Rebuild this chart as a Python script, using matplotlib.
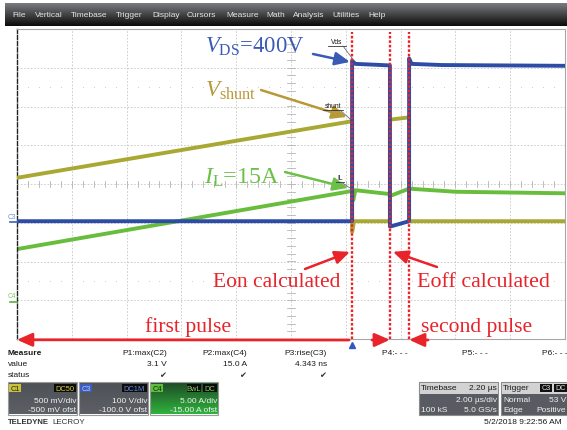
import numpy as np
import matplotlib
matplotlib.use('Agg')
import matplotlib.pyplot as plt
from matplotlib.patches import Rectangle

plt.rcParams['mathtext.fontset'] = 'custom'
plt.rcParams['mathtext.rm'] = 'Liberation Serif'
plt.rcParams['mathtext.it'] = 'Liberation Serif:italic'

# ---- data (time in us, physical units) ----
t_on, t_off, t_on2 = 12.23, 13.61, 14.31   # switching edges

vds_t = [0, t_on, t_on, 12.35, 13.0, t_off, t_off, t_on2, t_on2, 14.4, 15.5, 20]
vds_v = [4, 4, 418, 410, 408, 406, -10, 4, 424, 410, 407, 405]

shunt_t = [0, t_on, t_on, 12.3, t_off, t_off, t_on2, t_on2, 20]
shunt_v = [0.58, 1.31, -0.12, 0.02, 0.02, 1.33, 1.36, 0.02, 0.02]

il_t = [0, t_on, 12.27, 12.35, t_off, 13.65, t_on2, 16.0, 20]
il_i = [6.6, 14.1, 12.9, 14.2, 13.7, 13.5, 14.4, 14.0, 13.8]

# channel settings (scale per div, offset)
c1_scale, c1_ofs = 0.5, -0.5
c3_scale, c3_ofs = 100.0, -100.0
c4_scale, c4_ofs = 5.0, -15.0

menu = ['File', 'Vertical', 'Timebase', 'Trigger', 'Display', 'Cursors',
        'Measure', 'Math', 'Analysis', 'Utilities', 'Help']
menu_x = [12, 35, 71, 116, 152, 187, 226, 266, 293, 332, 368]

meas_names = ['P1:max(C2)', 'P2:max(C4)', 'P3:rise(C3)']
meas_vals = ['3.1 V', '15.0 A', '4.343 ns']

blue = '#2c4ca6'
olive = '#a8a832'
green = '#68bd3c'
red = '#e8232a'
grid_c = '#c6c6c6'

W, H = 567, 431
fig = plt.figure(figsize=(W / 100, H / 100), dpi=100, facecolor='white')

# scope graticule: 10 x 8 divisions
x0, x1, y0, y1 = 17, 565, 30, 340
ax = fig.add_axes([x0 / W, 1 - y1 / H, (x1 - x0) / W, (y1 - y0) / H])
ax.set_xlim(0, 20)
ax.set_ylim(-4, 4)
ax.set_xticks([])
ax.set_yticks([])
for s in ['top', 'right', 'bottom']:
    ax.spines[s].set_color('#a8a8a8')
    ax.spines[s].set_linewidth(0.8)
ax.spines['left'].set_color('#222222')
ax.spines['left'].set_linestyle((0, (3, 1.5)))
ax.spines['left'].set_linewidth(1.0)

for gx in np.arange(2, 20, 2):
    ax.axvline(gx, color=grid_c, lw=0.6, ls=(0, (2, 2)), zorder=0)
for gy in np.arange(-3, 4, 1):
    ax.axhline(gy, color=grid_c, lw=0.6, ls=(0, (2, 2)), zorder=0)
# center ticks
for tx in np.arange(0, 20.01, 0.4):
    ax.plot([tx, tx], [-0.07, 0.07], color='#b4b4b4', lw=0.6, zorder=0)
for ty in np.arange(-4, 4.01, 0.2):
    ax.plot([9.87, 10.13], [ty, ty], color='#b4b4b4', lw=0.6, zorder=0)
# dotted half-division rows
dots = [d for d in np.arange(0.4, 20, 0.4) if abs(d / 2 - round(d / 2)) > 0.01]
for ry in [2.5, -2.5]:
    ax.plot(dots, [ry] * len(dots), ls='none', marker='.', ms=1.2, mew=0,
            color='#c4c4c4', zorder=0)

# traces
ax.plot(il_t, (np.array(il_i) + c4_ofs) / c4_scale, color=green, lw=2.8, zorder=2)
ax.plot(shunt_t, (np.array(shunt_v) + c1_ofs) / c1_scale, color=olive, lw=2.8, zorder=3)
ax.plot(vds_t, (np.array(vds_v) + c3_ofs) / c3_scale, color=blue, lw=2.8, zorder=4)

# red dotted markers
for tv in [t_on, t_off, t_on2]:
    ax.axvline(tv, ymin=0, ymax=0.99, color=red, lw=1.7, ls=(0, (1.1, 0.8)), zorder=6)

ax.plot([t_on], [-4.15], marker='^', ms=4, color='#3358c0', clip_on=False, zorder=7)

# overlay in pixel coordinates
ov = fig.add_axes([0, 0, 1, 1], facecolor='none')
ov.set_zorder(10)
ov.axis('off')


def grad(xa, ya, xb, yb, ctop, cbot):
    a = np.array(matplotlib.colors.to_rgb(ctop))
    b = np.array(matplotlib.colors.to_rgb(cbot))
    f = np.linspace(0, 1, 32)[:, None]
    img = (a * (1 - f) + b * f)[:, None, :]
    ov.imshow(img, extent=[xa, xb, yb, ya], aspect='auto', origin='upper',
              interpolation='bilinear', zorder=1)


# menu bar
grad(5, 4, 567, 27, '#7a7b7f', '#0c0c0c')
for name, mx in zip(menu, menu_x):
    ov.text(mx, 15.5, name, fontsize=6, color='#e4e4e4', va='center',
            family='Liberation Sans', zorder=3)

# annotations
serif = 'Liberation Serif'
ov.text(205, 53, r'$V_{\mathrm{DS}}$=400V', fontsize=16.3, color='#3a5bb4',
        family=serif, va='baseline', zorder=5)
ov.text(205, 97, r'$V_{\mathrm{shunt}}$', fontsize=16.7, color='#b8993a',
        family=serif, va='baseline', zorder=5)
ov.text(204, 184, r'$I_{\mathrm{L}}$=15A', fontsize=17.3, color='#6cc04a',
        family=serif, va='baseline', zorder=5)
ov.text(213, 287, 'Eon calculated', fontsize=15.5, color=red, family=serif,
        va='baseline', zorder=5)
ov.text(417, 287, 'Eoff calculated', fontsize=15.8, color=red, family=serif,
        va='baseline', zorder=5)
ov.text(145, 332, 'first pulse', fontsize=15.7, color=red, family=serif,
        va='baseline', zorder=5)
ov.text(421, 332, 'second pulse', fontsize=15.6, color=red, family=serif,
        va='baseline', zorder=5)


def arrow(tip, tail, color, lw=1.8, hl=0.9, hw=0.4):
    ax.annotate('', xy=tip, xycoords='data', xytext=tail, textcoords=ov.transData,
                arrowprops=dict(arrowstyle='-|>,head_length=%g,head_width=%g' % (hl, hw),
                                color=color, lw=lw, shrinkA=0, shrinkB=0),
                annotation_clip=False, zorder=8)


arrow((12.15, 3.15), (313, 55), '#3a5bb4')
arrow((12.04, 1.73), (261, 91), '#b8993a')
arrow((12.08, -0.1), (285, 173), '#6cc04a')
arrow((12.15, -1.75), (305, 270), red)
arrow((13.72, -1.75), (437, 268), red)
# pulse arrows
arrow((0.0, -4.02), (349, 341), red, lw=2.0, hl=0.9, hw=0.4)
arrow((t_off, -4.02), (372, 341), red, lw=2.0, hl=0.9, hw=0.4)
arrow((t_on2, -4.02), (428, 341), red, lw=2.0, hl=0.9, hw=0.4)

# small trace labels with leaders
for txt, tx, ty, ux0, ux1, tip in [('Vds', 337, 43, 328, 346, (352, 59)),
                                   ('shunt', 333, 107, 323, 343, (350, 120)),
                                   ('IL', 340, 179, 336, 344, (350, 189))]:
    ov.text(tx, ty, txt, fontsize=4.8, ha='center', va='center', color='#111111',
            family='Liberation Sans', zorder=5)
    ov.plot([ux0, ux1], [ty + 4, ty + 4], color='#333333', lw=0.6, zorder=5)
    ov.plot([ux1 - 3, tip[0]], [ty + 4, tip[1]], color='#555555', lw=0.5, zorder=5)

# channel ground markers
ov.text(12, 218, 'C3', fontsize=4.8, color='#6d8ad0', ha='center', va='center',
        family='Liberation Sans')
ov.plot([10, 17], [223, 223], color='#4060b8', lw=1.2)
ov.text(12, 297, 'C4', fontsize=4.8, color='#7cc860', ha='center', va='center',
        family='Liberation Sans')
ov.plot([10, 17], [303, 303], color='#58b040', lw=1.2)

# measurement table
sans = 'Liberation Sans'
tc = '#1a1a1a'
ov.text(8, 354, 'Measure', fontsize=6, weight='bold', family=sans, color=tc, va='center')
ov.text(8, 365, 'value', fontsize=6, family=sans, color=tc, va='center')
ov.text(8, 376, 'status', fontsize=6, family=sans, color=tc, va='center')
for i, (nm, vl) in enumerate(zip(meas_names, meas_vals)):
    xr = 167 + 80 * i
    ov.text(xr, 354, nm, fontsize=6, family=sans, color=tc, va='center', ha='right')
    ov.text(xr, 365, vl, fontsize=6, family=sans, color=tc, va='center', ha='right')
    ov.text(xr - 1, 376, '\u2714', fontsize=6, family='DejaVu Sans', color='#333333',
            va='center', ha='right')
for i, nm in enumerate(['P4:- - -', 'P5:- - -', 'P6:- - -']):
    ov.text(382 + 80 * i, 354, nm, fontsize=6, family=sans, color=tc, va='center')


def box(xa, xb, ctop, cbot):
    ov.add_patch(Rectangle((xa, 383), xb - xa, 33, facecolor='none',
                           edgecolor='#9a9a9a', lw=0.8, zorder=2))
    grad(xa + 0.5, 383.5, xb - 0.5, 415.5, ctop, cbot)


def tag(xa, xb, txt, fc, tcol):
    ov.add_patch(Rectangle((xa, 385), xb - xa, 8.5, facecolor=fc, edgecolor='none',
                           zorder=3))
    ov.text((xa + xb) / 2, 389.5, txt, fontsize=5.4, family=sans, color=tcol,
            ha='center', va='center', zorder=4)


# channel boxes
box(8, 77, '#4e5156', '#5c6066')
tag(9, 21, 'C1', '#c8c13c', '#2a2a10')
tag(54, 76, 'DC50', '#0c0c0c', '#d8d040')
box(79, 148, '#4e5156', '#5c6066')
tag(80, 92, 'C3', '#3c5cc0', '#b8c8f0')
tag(122, 147, 'DC1M', '#0c0c0c', '#6a8ae0')
box(150, 218, '#1e4a26', '#2fb23c')
tag(151, 163, 'C4', '#5cbc3c', '#102a08')
tag(187, 201, 'BwL', '#0c0c0c', '#7cd85a')
tag(203, 217, 'DC', '#0c0c0c', '#7cd85a')
for xr, l1, l2 in [(76, '500 mV/div', '-500 mV ofst'),
                   (147, '100 V/div', '-100.0 V ofst'),
                   (217, '5.00 A/div', '-15.00 A ofst')]:
    ov.text(xr, 401.5, l1, fontsize=6, family=sans, color='#f0f0f0', ha='right',
            va='center', zorder=4)
    ov.text(xr, 411, l2, fontsize=6, family=sans, color='#f0f0f0', ha='right',
            va='center', zorder=4)

# timebase / trigger boxes
for xa, xb in [(419, 498), (501, 568)]:
    ov.add_patch(Rectangle((xa, 383), xb - xa, 33, facecolor='#585c62',
                           edgecolor='#8c8c8c', lw=0.8, zorder=2))
    ov.add_patch(Rectangle((xa + 0.5, 383.5), xb - xa - 1, 11, facecolor='#d2d2d2',
                           edgecolor='none', zorder=3))
ov.text(421, 389, 'Timebase', fontsize=6, family=sans, color=tc, va='center', zorder=4)
ov.text(497, 389, '2.20 \u00b5s', fontsize=6, family=sans, color=tc, va='center',
        ha='right', zorder=4)
ov.text(497, 401, '2.00 \u00b5s/div', fontsize=6, family=sans, color='#f0f0f0',
        va='center', ha='right', zorder=4)
ov.text(421, 411, '100 kS', fontsize=6, family=sans, color='#f0f0f0', va='center', zorder=4)
ov.text(497, 411, '5.0 GS/s', fontsize=6, family=sans, color='#f0f0f0', va='center',
        ha='right', zorder=4)
ov.text(503, 389, 'Trigger', fontsize=6, family=sans, color=tc, va='center', zorder=4)
ov.add_patch(Rectangle((540, 385), 12, 8, facecolor='#101010', zorder=4))
ov.text(546, 389, 'C3', fontsize=5.2, family=sans, color='#e0e0e0', ha='center',
        va='center', zorder=5)
ov.add_patch(Rectangle((554, 385), 14, 8, facecolor='#101010', zorder=4))
ov.text(555, 389, 'DC', fontsize=5.2, family=sans, color='#e0e0e0', va='center', zorder=5)
ov.text(503, 401, 'Normal', fontsize=6, family=sans, color='#f0f0f0', va='center', zorder=4)
ov.text(566, 401, '53 V', fontsize=6, family=sans, color='#f0f0f0', va='center',
        ha='right', zorder=4)
ov.text(503, 411, 'Edge', fontsize=6, family=sans, color='#f0f0f0', va='center', zorder=4)
ov.text(566, 411, 'Positive', fontsize=6, family=sans, color='#f0f0f0', va='center',
        ha='right', zorder=4)

ov.text(8, 423, 'TELEDYNE', fontsize=5.6, weight='bold', family=sans, color='#303030',
        va='center')
ov.text(52, 423, 'LECROY', fontsize=5.8, family=sans, color='#303030', va='center')
ov.text(562, 422.5, '5/2/2018 9:22:56 AM', fontsize=6, family=sans, color=tc,
        va='center', ha='right')

ov.set_xlim(0, W)
ov.set_ylim(H, 0)

fig.savefig('out.png', dpi=100, facecolor='white')
